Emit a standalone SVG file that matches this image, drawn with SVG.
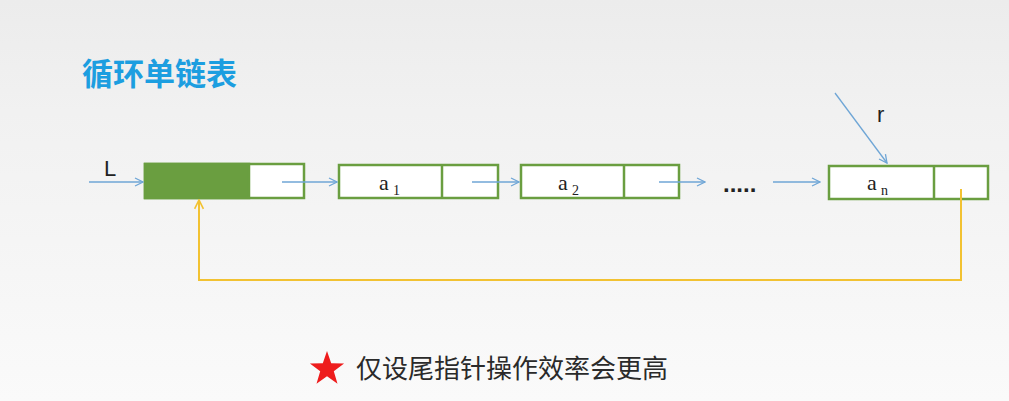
<svg xmlns="http://www.w3.org/2000/svg" width="1009" height="401" viewBox="0 0 1009 401">
<defs>
<linearGradient id="bg" x1="0" y1="0" x2="0" y2="1">
<stop offset="0" stop-color="#ececec"/>
<stop offset="0.28" stop-color="#f1f1f1"/>
<stop offset="1" stop-color="#fafafa"/>
</linearGradient>
<marker id="ab" viewBox="0 0 10 10" refX="9" refY="5" markerWidth="10" markerHeight="10" markerUnits="userSpaceOnUse" orient="auto">
<path d="M1,1 L9,5 L1,9" fill="none" stroke="#6fa6d6" stroke-width="1.3"/>
</marker>
<marker id="ay" viewBox="0 0 10 10" refX="9" refY="5" markerWidth="11" markerHeight="11" markerUnits="userSpaceOnUse" orient="auto">
<path d="M1,1 L9,5 L1,9" fill="none" stroke="#f2c232" stroke-width="1.5"/>
</marker>
</defs>
<style>
.box{fill:#ffffff;stroke:#6a9e40;stroke-width:2.5}
.blue{stroke:#6fa6d6;stroke-width:1.3;fill:none}
.yel{stroke:#f2c232;stroke-width:2;fill:none}
.lbl{font-family:"Liberation Serif","DejaVu Serif",serif;font-size:22px;fill:#222}
.sub{font-family:"Liberation Serif","DejaVu Serif",serif;font-size:14px;fill:#222}
.ptr{font-family:"Liberation Sans","DejaVu Sans",sans-serif;font-size:22px;fill:#222}
</style>
<rect width="1009" height="401" fill="url(#bg)"/>
<text x="82" y="85" font-family="'Noto Sans CJK SC',sans-serif" font-size="31" font-weight="bold" fill="#1c9ee0">循环单链表</text>

<g id="head">
<rect class="box" x="145" y="164" width="159" height="34"/>
<rect x="145" y="164" width="104" height="34" fill="#6a9e40" stroke="#6a9e40" stroke-width="2.5"/>
</g>
<g id="node-a1">
<rect class="box" x="339" y="165" width="159" height="33"/>
<line x1="442" y1="165" x2="442" y2="198" stroke="#6a9e40" stroke-width="2.5"/>
<text class="lbl" x="379" y="190">a</text><text class="sub" x="393" y="195">1</text>
</g>
<g id="node-a2">
<rect class="box" x="521" y="165" width="158" height="33"/>
<line x1="624" y1="165" x2="624" y2="198" stroke="#6a9e40" stroke-width="2.5"/>
<text class="lbl" x="558" y="190">a</text><text class="sub" x="572" y="195">2</text>
</g>
<g id="dots">
<text x="723" y="192" font-family="'Liberation Sans',sans-serif" font-size="24" font-weight="bold" fill="#222">.....</text>
</g>
<g id="node-an">
<rect class="box" x="829" y="166" width="159" height="33"/>
<line x1="934" y1="166" x2="934" y2="199" stroke="#6a9e40" stroke-width="2.5"/>
<text class="lbl" x="867" y="190">a</text><text class="sub" x="881" y="195">n</text>
</g>
<g id="labels">
<text class="ptr" x="104" y="176">L</text>
<text class="ptr" x="877" y="122">r</text>
</g>

<g id="connectors">
<line class="blue" x1="89" y1="182" x2="143" y2="182" marker-end="url(#ab)"/>
<line class="blue" x1="282" y1="182" x2="337" y2="182" marker-end="url(#ab)"/>
<line class="blue" x1="472" y1="182" x2="519" y2="182" marker-end="url(#ab)"/>
<line class="blue" x1="659" y1="182" x2="705" y2="182" marker-end="url(#ab)"/>
<line class="blue" x1="773" y1="182" x2="820" y2="182" marker-end="url(#ab)"/>
<line class="blue" x1="835" y1="93" x2="887" y2="163" marker-end="url(#ab)"/>
<polyline class="yel" points="961,189 961,280 199,280 199,200" marker-end="url(#ay)"/>
</g>

<g id="note">
<polygon points="327,351 331.2,363.2 344.1,363.5 333.8,371.3 337.5,383.7 327,376.3 316.5,383.7 320.2,371.3 309.9,363.5 322.8,363.2" fill="#ee1c1c"/>
<text x="356" y="378" font-family="'Noto Sans CJK SC',sans-serif" font-size="26" fill="#2a2a2a">仅设尾指针操作效率会更高</text>
</g>
</svg>
